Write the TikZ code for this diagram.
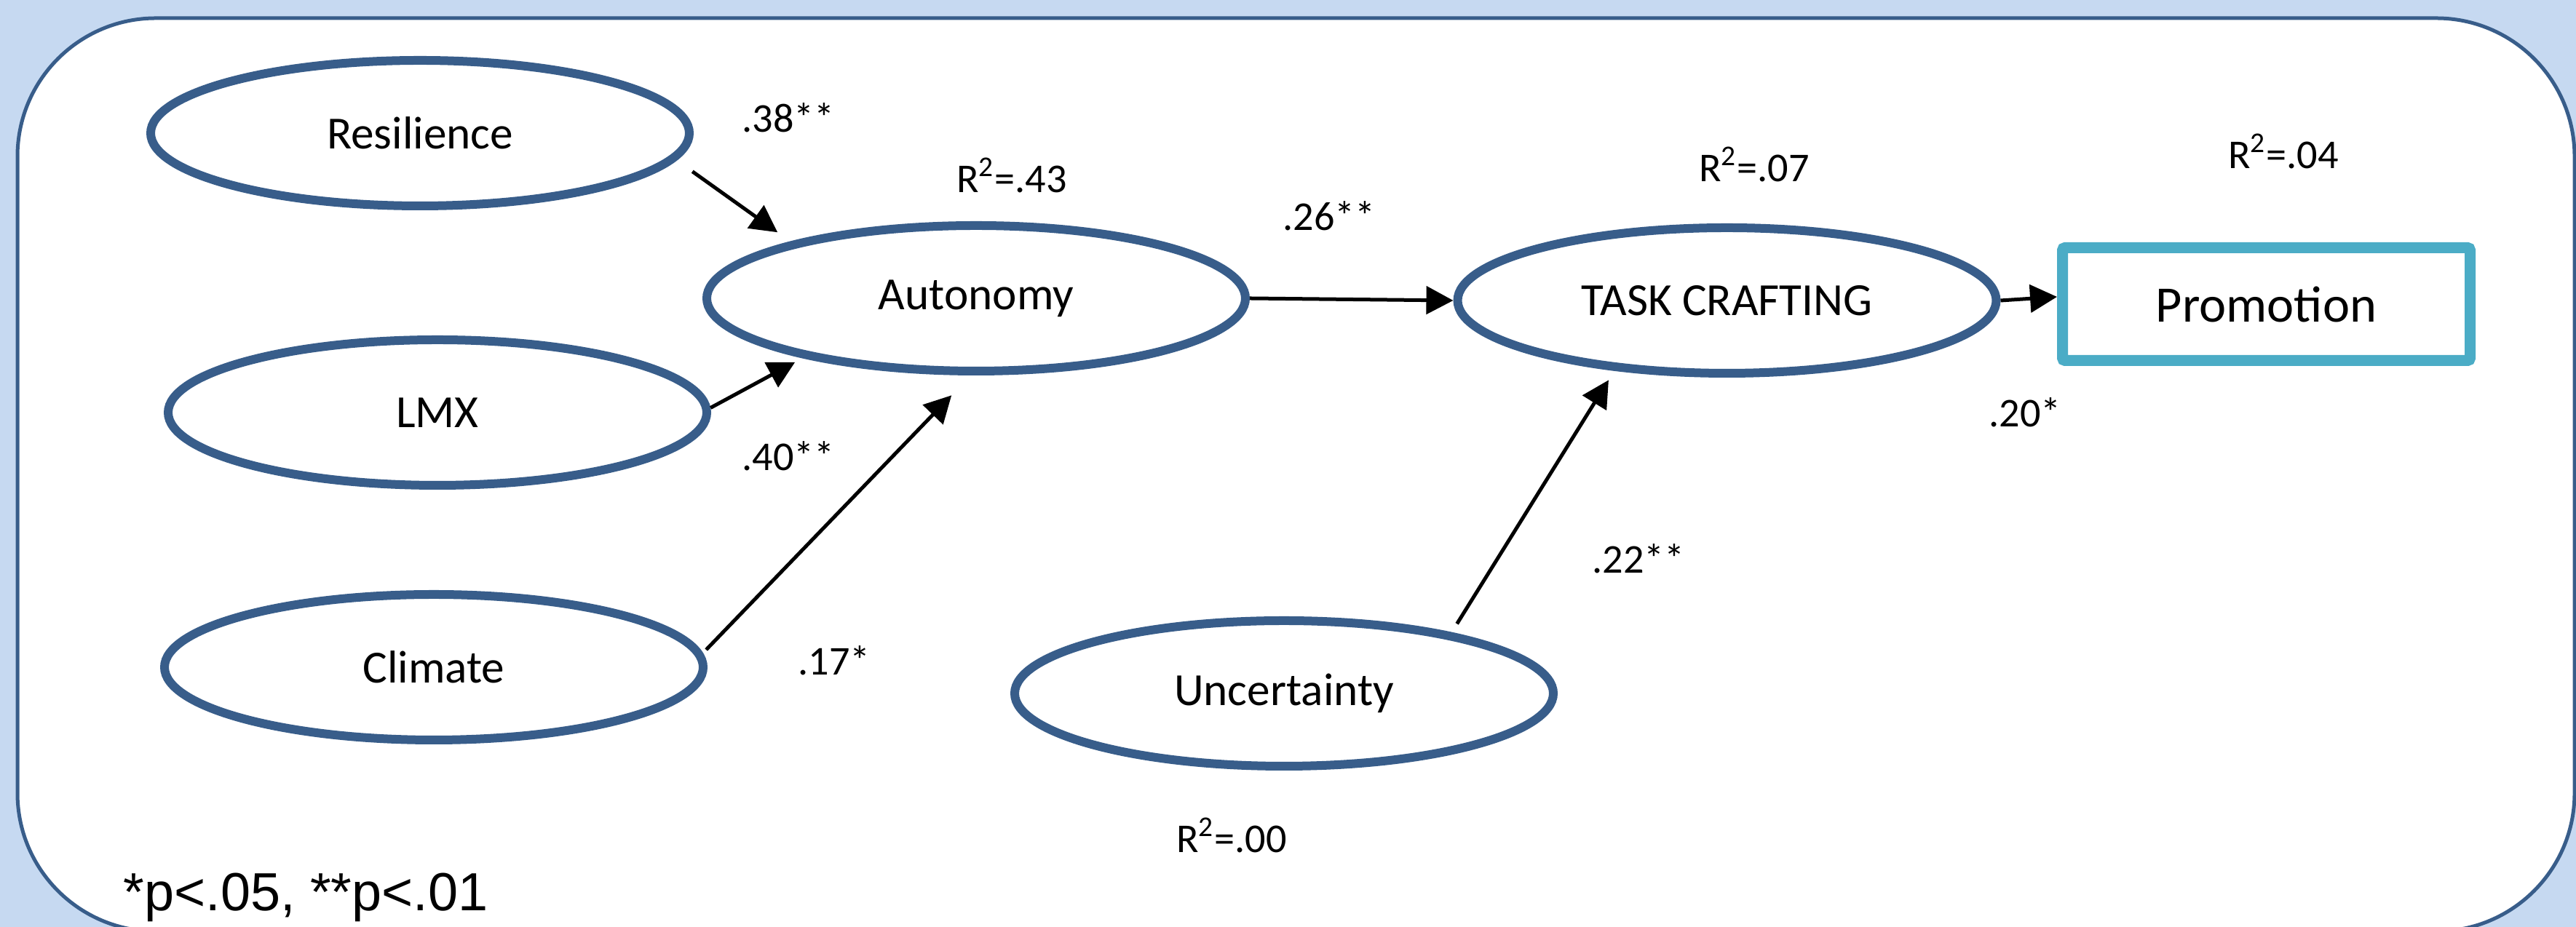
\documentclass[tikz,border=0pt]{standalone}
\usepackage{fontspec}
\setmainfont{Carlito}
\newfontfamily\notefont{Liberation Sans}
\definecolor{sem_back}{RGB}{198, 217, 241}
\definecolor{sem_line}{RGB}{56, 93, 138}
\definecolor{sem_obs}{RGB}{75, 172, 198}
\usepackage{tikz}
\usetikzlibrary{arrows.meta, positioning, shapes.geometric, calc}

\begin{document}
\begin{tikzpicture}[
        latent/.style={ellipse, draw=sem_line, fill=white, line width=0.12cm,
                       minimum width=7.4cm, minimum height=2.0cm, inner sep=0pt,
                       font=\fontsize{18}{22}\selectfont},
        observed/.style={rectangle, rounded corners=1pt, draw=sem_obs, fill=white,
                         line width=0.15cm, minimum width=5.6cm, minimum height=1.55cm,
                         inner sep=0pt, font=\fontsize{20}{24}\selectfont},
        coef/.style={anchor=base, inner sep=0pt, font=\fontsize{16}{19}\selectfont},
        arr/.style={-{Triangle[length=0.37cm, width=0.38cm]}, line width=0.05cm},
      ]
        \useasboundingbox (0,0) rectangle (35.39,12.74);
        \fill[sem_back] (0,0) rectangle (35.39,12.74);
        \draw[sem_line, fill=white, line width=0.05cm, rounded corners=1.9cm]
          (0.24,-0.06) rectangle (35.37,12.49);

        \node[latent] (res)  at (5.77, 10.91) {Resilience};
        \node[latent] (lmx)  at (6.01, 7.07)  {LMX};
        \node[latent] (clim) at (5.96, 3.57)  {Climate};
        \node[latent] (aut)  at (13.41, 8.64) {Autonomy};
        \node[latent] (task) at (23.725, 8.61) {TASK CRAFTING};
        \node[latent] (unc)  at (17.64, 3.21) {Uncertainty};
        \node[observed] (prom) at (31.135, 8.56) {Promotion};

        \node[coef] (c_res)   at (10.83, 10.92) {.38**};
        \node[coef] (r2_aut)  at (13.90, 10.09) {R\textsuperscript{2}=.43};
        \node[coef] (c_aut)   at (18.26, 9.57)  {.26**};
        \node[coef] (r2_task) at (24.10, 10.24) {R\textsuperscript{2}=.07};
        \node[coef] (r2_prom) at (31.37, 10.42) {R\textsuperscript{2}=.04};
        \node[coef] (c_lmx)   at (10.83, 6.27)  {.40**};
        \node[coef] (c_clim)  at (11.46, 3.46)  {.17*};
        \node[coef] (c_task)  at (27.82, 6.87)  {.20*};
        \node[coef] (c_unc)   at (22.51, 4.86)  {.22**};
        \node[coef] (r2_unc)  at (16.92, 1.02)  {R\textsuperscript{2}=.00};
        \node[anchor=base west, inner sep=0pt, font=\notefont\fontsize{21}{25}\selectfont]
          (note) at (1.69, 0.22) {*p<.05, **p<.01};

        \draw[arr, shorten <=0.27cm, shorten >=0.22cm] (res.-6.5) -- (aut.163.2);
        \draw[arr, shorten >=0.12cm] (lmx.1.4) -- (aut.199.5);
        \draw[arr, shorten <=0.065cm, shorten >=0.38cm] (clim.3.5) -- (aut.266.5);
        \draw[arr] (aut.east) -- (task.west);
        \draw[arr, shorten <=0.14cm, shorten >=0.15cm] (unc.20) -- (task.212.2);
        \draw[arr] (task.east) -- (prom.178);
      \end{tikzpicture}
\end{document}
